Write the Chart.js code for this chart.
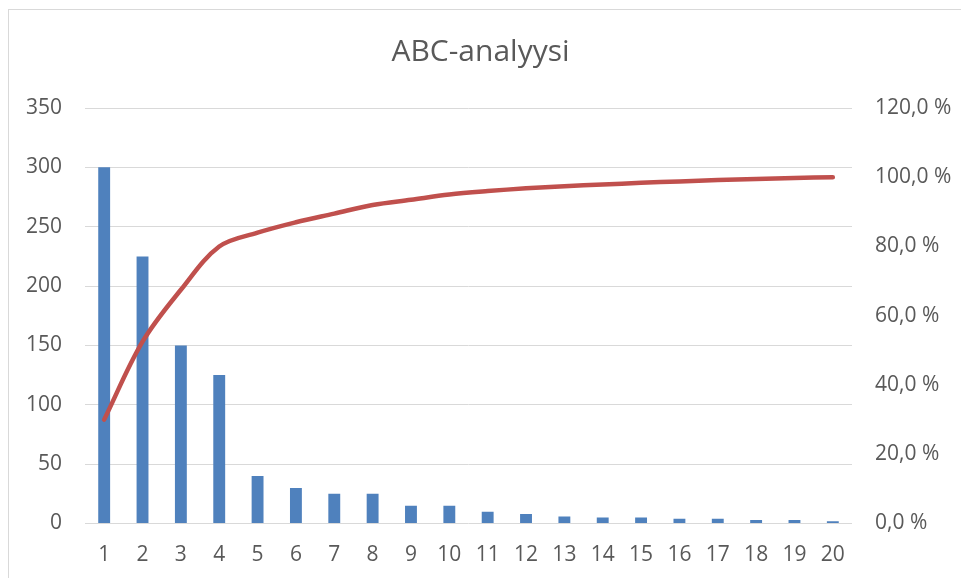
<!DOCTYPE html>
<html>
<head>
<meta charset="utf-8">
<script src="https://cdn.jsdelivr.net/npm/chart.js@4/dist/chart.umd.min.js"></script>
<style>
  html, body { margin: 0; padding: 0; background: #ffffff; }
  #wrap { position: relative; width: 961px; height: 578px; overflow: hidden; }
  #frame { position: absolute; left: 8px; top: 9px; width: 1000px; height: 600px;
           border: 1px solid #d9d9d9; box-sizing: border-box; }
  #c { position: absolute; left: 0; top: 0; }
</style>
</head>
<body>
<div id="wrap">
  <div id="frame"></div>
  <canvas id="c" width="961" height="578"></canvas>
</div>
<script>
// Items 1..20 with their quantities, sorted descending
const categories = ['1','2','3','4','5','6','7','8','9','10','11','12','13','14','15','16','17','18','19','20'];
const quantities = [300, 225, 150, 125, 40, 30, 25, 25, 15, 15, 10, 8, 6, 5, 5, 4, 4, 3, 3, 2];
// Cumulative share of the total, in percent
const cumulativePct = [30.0, 52.5, 67.5, 80.0, 84.0, 87.0, 89.5, 92.0, 93.5, 95.0, 96.0, 96.8, 97.4, 97.9, 98.4, 98.8, 99.2, 99.5, 99.8, 100.0];
const leftTicks = [0, 50, 100, 150, 200, 250, 300, 350];
const rightTicks = [0, 20, 40, 60, 80, 100, 120];

const FONT = "'Open Sans', 'Liberation Sans', sans-serif";
const TEXT = '#595959';
const GRID = '#d9d9d9';
const TICK_FONT = { family: FONT, size: 21 };

new Chart(document.getElementById('c'), {
  data: {
    labels: categories,
    datasets: [
      {
        type: 'line',
        label: 'Kumulatiivinen %',
        data: cumulativePct,
        yAxisID: 'yPct',
        borderColor: '#c0504d',
        backgroundColor: '#c0504d',
        borderWidth: 4.5,
        borderCapStyle: 'round',
        borderJoinStyle: 'round',
        pointRadius: 0,
        tension: 0.35,
        order: 0
      },
      {
        type: 'bar',
        label: 'Määrä',
        data: quantities,
        yAxisID: 'y',
        backgroundColor: '#4f81bd',
        categoryPercentage: 1,
        barPercentage: 0.31,
        order: 1
      }
    ]
  },
  options: {
    responsive: false,
    animation: false,
    layout: { padding: 0 },
    plugins: {
      legend: { display: false },
      tooltip: { enabled: false },
      title: {
        display: true,
        text: 'ABC-analyysi',
        color: TEXT,
        font: { family: FONT, size: 30, weight: 'normal', lineHeight: 1.2 },
        padding: { top: 34, bottom: 38 }
      }
    },
    scales: {
      x: {
        offset: true,
        grid: { display: false, drawTicks: false },
        border: { display: false },
        ticks: { color: TEXT, font: TICK_FONT, padding: 19, maxRotation: 0, autoSkip: false },
        afterFit: (s) => { s.height = 54.5; }
      },
      y: {
        position: 'left',
        min: 0, max: 350,
        afterBuildTicks: (s) => { s.ticks = leftTicks.map(v => ({ value: v })); },
        grid: { color: GRID, lineWidth: 1, drawTicks: false },
        border: { display: false },
        ticks: { color: TEXT, font: TICK_FONT, padding: 23 },
        afterFit: (s) => { s.width = 85; }
      },
      yPct: {
        position: 'right',
        min: 0, max: 120,
        afterBuildTicks: (s) => { s.ticks = rightTicks.map(v => ({ value: v })); },
        grid: { drawOnChartArea: false, drawTicks: false },
        border: { display: false },
        ticks: {
          color: TEXT, font: TICK_FONT, padding: 23,
          callback: (v) => v.toFixed(1).replace('.', ',') + ' %'
        },
        afterFit: (s) => { s.width = 109; }
      }
    }
  }
});
</script>
</body>
</html>
